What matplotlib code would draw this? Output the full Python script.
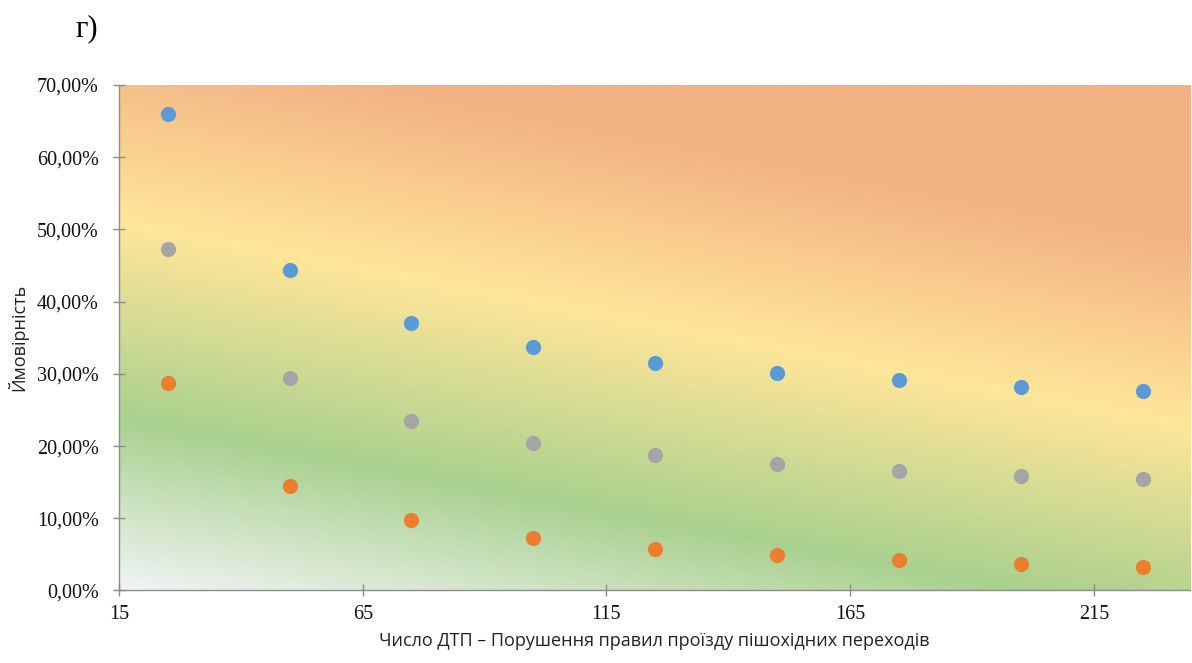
import numpy as np
import matplotlib
matplotlib.use("Agg")
import matplotlib.pyplot as plt
from matplotlib.colors import LinearSegmentedColormap
from matplotlib.ticker import FuncFormatter

# data
x_vals = [25, 50, 75, 100, 125, 150, 175, 200, 225]
blue_vals = [0.660, 0.444, 0.371, 0.337, 0.315, 0.301, 0.291, 0.282, 0.276]
gray_vals = [0.473, 0.294, 0.234, 0.204, 0.187, 0.175, 0.166, 0.159, 0.154]
orange_vals = [0.288, 0.145, 0.097, 0.072, 0.057, 0.049, 0.042, 0.036, 0.033]
x_ticks = [15, 65, 115, 165, 215]
y_ticks = [0.0, 0.1, 0.2, 0.3, 0.4, 0.5, 0.6, 0.7]

fig = plt.figure(figsize=(11.92, 6.63), dpi=100)
ax = fig.add_axes([0.0998, 0.1094, 0.8985, 0.7624])

# diagonal background gradient: white -> green -> yellow -> orange
W, H = 1071, 505.5
u = np.linspace(0, 1, 600)
v = np.linspace(0, 1, 400)
U, V = np.meshgrid(u, v)
c = 590.5 - H * V - 0.19 * W * U          # pixel "depth" along gradient
t = np.clip((c - 30) / (600 - 30), 0, 1)
cmap = LinearSegmentedColormap.from_list(
    "bg", [(0.0, "#f2b183"), ((223 - 30) / 570, "#ffe699"),
           ((420 - 30) / 570, "#a9d18e"), (1.0, "#f4f6fa")])
ax.imshow(cmap(t), extent=[0, 1, 0, 1], transform=ax.transAxes,
          origin="lower", aspect="auto", zorder=0, interpolation="bilinear")

ax.scatter(x_vals, blue_vals, s=120, color="#5b9bd5", zorder=3, linewidths=0)
ax.scatter(x_vals, gray_vals, s=120, color="#a5a5a5", zorder=3, linewidths=0)
ax.scatter(x_vals, orange_vals, s=120, color="#ed7d31", zorder=3, linewidths=0)

ax.set_xlim(15, 234.7)
ax.set_ylim(0, 0.7)
ax.set_xticks(x_ticks)
ax.set_yticks(y_ticks)
ax.yaxis.set_major_formatter(FuncFormatter(lambda y, p: f"{y*100:.2f}%".replace(".", ",")))

for s in ["top", "right"]:
    ax.spines[s].set_visible(False)
for s in ["left", "bottom"]:
    ax.spines[s].set_color("#8c8c8c")
    ax.spines[s].set_linewidth(1.0)
    ax.spines[s].set_zorder(4)

ax.tick_params(axis="both", direction="inout", length=9, width=1.0, color="#8c8c8c",
               labelsize=14.5, labelcolor="#111111")
ax.tick_params(axis="y", pad=10)
ax.tick_params(axis="x", pad=6)
for lab in ax.get_xticklabels() + ax.get_yticklabels():
    lab.set_fontfamily("Liberation Serif")

ax.set_xlabel("Число ДТП – Порушення правил проїзду пішохідних переходів",
              fontsize=13, family="Open Sans", color="#222222", labelpad=6)
ax.set_ylabel("Ймовірність", fontsize=13, family="Open Sans", color="#222222", labelpad=6)

fig.text(0.063, 0.957, "г)", fontsize=22, family="Liberation Serif", ha="left", va="center")

fig.savefig("out.png", dpi=100)
